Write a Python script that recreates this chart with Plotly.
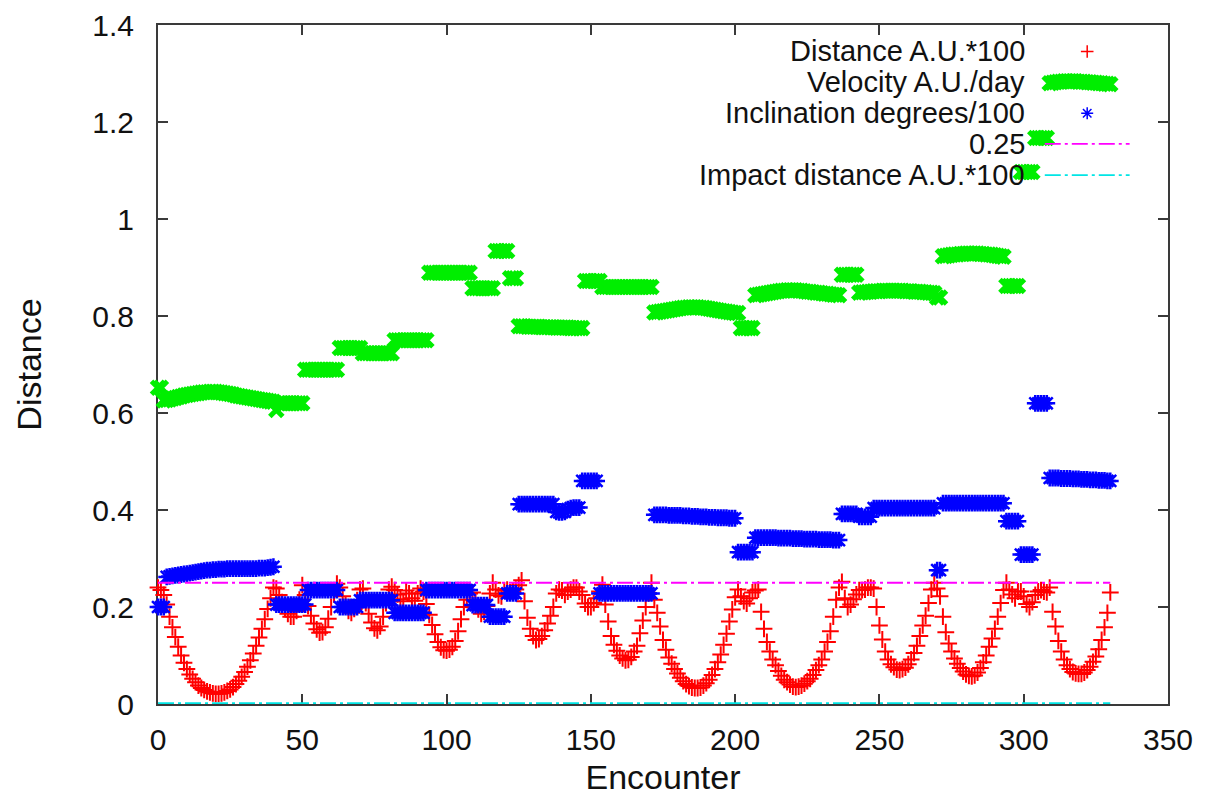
import plotly.graph_objects as go

# ---------------- data ----------------
ENCOUNTER = list(range(0, 331))

DISTANCE = [
    0.240, 0.235, 0.225, 0.205, 0.180, 0.158, 0.138, 0.118, 0.100, 0.085,
    0.072, 0.061, 0.052, 0.045, 0.038, 0.033, 0.029, 0.026, 0.024, 0.022,
    0.021, 0.021, 0.022, 0.024, 0.027, 0.030, 0.035, 0.041, 0.048, 0.056,
    0.066, 0.077, 0.090, 0.104, 0.120, 0.137, 0.155, 0.175, 0.196, 0.218,
    0.240, 0.238, 0.225, 0.210, 0.196, 0.186, 0.180, 0.180, 0.192, 0.215,
    0.245, 0.225, 0.202, 0.182, 0.166, 0.154, 0.147, 0.148, 0.158, 0.176,
    0.200, 0.226, 0.248, 0.240, 0.222, 0.205, 0.192, 0.188, 0.196, 0.214,
    0.236, 0.238, 0.208, 0.186, 0.168, 0.156, 0.152, 0.160, 0.180, 0.208,
    0.236, 0.242, 0.235, 0.226, 0.216, 0.212, 0.234, 0.228, 0.218, 0.213,
    0.228, 0.238, 0.232, 0.206, 0.184, 0.163, 0.144, 0.128, 0.117, 0.111,
    0.110, 0.112, 0.118, 0.130, 0.150, 0.175, 0.200, 0.215, 0.228, 0.230,
    0.212, 0.195, 0.186, 0.190, 0.202, 0.228, 0.250, 0.236, 0.224, 0.222,
    0.234, 0.236, 0.230, 0.232, 0.236, 0.245, 0.255, 0.212, 0.178, 0.155,
    0.140, 0.132, 0.134, 0.140, 0.152, 0.166, 0.182, 0.200, 0.228, 0.236,
    0.234, 0.225, 0.232, 0.236, 0.240, 0.240, 0.232, 0.225, 0.207, 0.200,
    0.200, 0.208, 0.218, 0.232, 0.246, 0.205, 0.170, 0.140, 0.122, 0.110,
    0.100, 0.094, 0.090, 0.091, 0.097, 0.108, 0.120, 0.146, 0.172, 0.200,
    0.228, 0.250, 0.215, 0.188, 0.160, 0.132, 0.112, 0.096, 0.083, 0.072,
    0.063, 0.054, 0.047, 0.041, 0.037, 0.034, 0.033, 0.033, 0.034, 0.038,
    0.043, 0.050, 0.060, 0.072, 0.086, 0.102, 0.122, 0.145, 0.170, 0.195,
    0.220, 0.236, 0.222, 0.212, 0.207, 0.218, 0.230, 0.234, 0.236, 0.190,
    0.155, 0.128, 0.108, 0.092, 0.080, 0.068, 0.058, 0.050, 0.045, 0.040,
    0.036, 0.035, 0.036, 0.038, 0.042, 0.047, 0.052, 0.060, 0.070, 0.080,
    0.092, 0.108, 0.128, 0.150, 0.180, 0.215, 0.240, 0.252, 0.218, 0.200,
    0.205, 0.216, 0.226, 0.235, 0.235, 0.236, 0.240, 0.240, 0.238, 0.200,
    0.162, 0.133, 0.108, 0.092, 0.082, 0.076, 0.071, 0.070, 0.072, 0.075,
    0.082, 0.092, 0.105, 0.120, 0.140, 0.162, 0.182, 0.208, 0.236, 0.250,
    0.238, 0.222, 0.180, 0.148, 0.125, 0.108, 0.094, 0.083, 0.074, 0.067,
    0.061, 0.058, 0.057, 0.059, 0.065, 0.074, 0.086, 0.100, 0.118, 0.135,
    0.155, 0.180, 0.208, 0.235, 0.250, 0.236, 0.226, 0.218, 0.232, 0.232,
    0.222, 0.206, 0.200, 0.210, 0.225, 0.232, 0.235, 0.232, 0.230, 0.240,
    0.190, 0.160, 0.130, 0.108, 0.092, 0.080, 0.072, 0.066, 0.063, 0.062,
    0.062, 0.065, 0.070, 0.077, 0.087, 0.098, 0.113, 0.132, 0.158, 0.188,
    0.230,
]

VELOCITY = [
    0.652, 0.652,
    0.626, 0.627, 0.628, 0.630, 0.631, 0.633, 0.634, 0.636, 0.637, 0.638,
    0.639, 0.640, 0.641, 0.642, 0.643, 0.643, 0.644, 0.644, 0.644, 0.643,
    0.642, 0.641, 0.640, 0.639, 0.638, 0.636, 0.635, 0.634, 0.633, 0.632,
    0.631, 0.630, 0.629, 0.628, 0.627, 0.626, 0.625, 0.624, 0.623,
    0.606,
    0.620, 0.620, 0.620, 0.620, 0.620, 0.620, 0.620, 0.620, 0.620,
    0.689, 0.689, 0.689, 0.689, 0.689, 0.689, 0.689, 0.689, 0.689, 0.689, 0.689, 0.689,
    0.734, 0.734, 0.734, 0.734, 0.734, 0.734, 0.734, 0.734,
    0.723, 0.723, 0.723, 0.723, 0.723, 0.723, 0.723, 0.723, 0.723, 0.723, 0.723,
    0.750, 0.750, 0.750, 0.750, 0.750, 0.750, 0.750, 0.750, 0.750, 0.750, 0.750, 0.750,
    0.889, 0.889, 0.889, 0.889, 0.889, 0.889, 0.889, 0.889, 0.889, 0.889,
    0.889, 0.889, 0.889, 0.889, 0.889,
    0.857, 0.857, 0.857, 0.857, 0.857, 0.857, 0.857, 0.857,
    0.934, 0.934, 0.934, 0.934, 0.934,
    0.878, 0.878, 0.878,
    0.779, 0.779, 0.779, 0.778, 0.778, 0.778, 0.778, 0.778, 0.777, 0.777,
    0.777, 0.777, 0.777, 0.776, 0.776, 0.776, 0.776, 0.776, 0.775, 0.775,
    0.775, 0.775, 0.775,
    0.872, 0.872, 0.872, 0.872, 0.872, 0.872,
    0.860, 0.860, 0.860, 0.860, 0.860, 0.860, 0.860, 0.860, 0.860, 0.860,
    0.860, 0.860, 0.860, 0.860, 0.860, 0.860, 0.860, 0.860,
    0.807, 0.808, 0.809, 0.810, 0.811, 0.812, 0.813, 0.814, 0.815, 0.816,
    0.817, 0.817, 0.818, 0.818, 0.818, 0.818, 0.817, 0.817, 0.816, 0.815,
    0.814, 0.813, 0.812, 0.811, 0.810, 0.809, 0.808, 0.807, 0.806, 0.806,
    0.775, 0.775, 0.775, 0.775, 0.775,
    0.843, 0.844, 0.845, 0.846, 0.847, 0.848, 0.849, 0.850, 0.851, 0.852,
    0.852, 0.853, 0.853, 0.853, 0.853, 0.852, 0.852, 0.851, 0.850, 0.850,
    0.849, 0.848, 0.848, 0.847, 0.846, 0.846, 0.845, 0.844, 0.844, 0.843,
    0.885, 0.885, 0.885, 0.885, 0.885, 0.885,
    0.848, 0.849, 0.849, 0.850, 0.850, 0.851, 0.851, 0.851, 0.852, 0.852,
    0.852, 0.852, 0.852, 0.852, 0.852, 0.852, 0.851, 0.851, 0.851, 0.850,
    0.850, 0.850, 0.849, 0.849, 0.848, 0.848, 0.847,
    0.838, 0.838,
    0.923, 0.924, 0.925, 0.926, 0.927, 0.927, 0.928, 0.928, 0.929, 0.929,
    0.929, 0.929, 0.929, 0.928, 0.928, 0.927, 0.927, 0.926, 0.925, 0.924,
    0.923, 0.922,
    0.862, 0.862, 0.862, 0.862, 0.862,
    1.097, 1.097, 1.097, 1.097, 1.097,
    1.167, 1.167, 1.167, 1.167, 1.167,
    1.280, 1.281, 1.282, 1.283, 1.283, 1.284, 1.284, 1.284, 1.284, 1.284,
    1.283, 1.283, 1.283, 1.282, 1.282, 1.281, 1.281, 1.280, 1.280, 1.279,
    1.279, 1.278,
]

INCLINATION = [
    0.200, 0.200, 0.200,
    0.262, 0.263, 0.264, 0.265, 0.266, 0.267, 0.268, 0.269, 0.270, 0.271,
    0.272, 0.273, 0.274, 0.275, 0.276, 0.276, 0.277, 0.277, 0.278, 0.278,
    0.278, 0.279, 0.279, 0.279, 0.279, 0.279, 0.279, 0.279, 0.279, 0.279,
    0.279, 0.279, 0.280, 0.280, 0.280, 0.281, 0.282, 0.283,
    0.205, 0.205, 0.205, 0.205, 0.205, 0.205, 0.205, 0.205, 0.205, 0.205, 0.205,
    0.235, 0.235, 0.235, 0.235, 0.235, 0.235, 0.235, 0.235, 0.235, 0.235, 0.235,
    0.200, 0.200, 0.200, 0.200, 0.200, 0.200, 0.200,
    0.214, 0.214, 0.214, 0.214, 0.214, 0.214, 0.214, 0.214, 0.214, 0.214, 0.214, 0.214,
    0.188, 0.188, 0.188, 0.188, 0.188, 0.188, 0.188, 0.188, 0.188, 0.188, 0.188,
    0.235, 0.235, 0.235, 0.235, 0.235, 0.235, 0.235, 0.235, 0.235, 0.235,
    0.235, 0.235, 0.235, 0.235, 0.235, 0.235,
    0.204, 0.204, 0.204, 0.204, 0.204, 0.204,
    0.180, 0.180, 0.180, 0.180, 0.180, 0.180,
    0.228, 0.228, 0.228, 0.228,
    0.412, 0.412, 0.412, 0.412, 0.412, 0.412, 0.412, 0.412, 0.412, 0.412,
    0.412, 0.412, 0.412,
    0.396, 0.395, 0.395, 0.396, 0.402, 0.404, 0.405, 0.405, 0.405,
    0.460, 0.460, 0.460, 0.460, 0.460, 0.460,
    0.228, 0.228, 0.228, 0.228, 0.228, 0.228, 0.228, 0.228, 0.228, 0.228,
    0.228, 0.228, 0.228, 0.228, 0.228, 0.228, 0.228, 0.228, 0.228,
    0.390, 0.390, 0.390, 0.390, 0.390, 0.389, 0.389, 0.389, 0.389, 0.389,
    0.388, 0.388, 0.388, 0.387, 0.387, 0.387, 0.386, 0.386, 0.386, 0.385,
    0.385, 0.385, 0.384, 0.384, 0.384, 0.384, 0.383, 0.383, 0.383,
    0.313, 0.313, 0.313, 0.313, 0.313, 0.313,
    0.343, 0.343, 0.343, 0.343, 0.343, 0.343, 0.343, 0.343, 0.342, 0.342,
    0.342, 0.342, 0.342, 0.341, 0.341, 0.341, 0.341, 0.340, 0.340, 0.340,
    0.340, 0.340, 0.339, 0.339, 0.339, 0.339, 0.339, 0.338, 0.338, 0.338,
    0.392, 0.392, 0.392, 0.392, 0.392, 0.392,
    0.386, 0.386, 0.386, 0.386, 0.386,
    0.404, 0.404, 0.404, 0.404, 0.404, 0.404, 0.404, 0.404, 0.404, 0.404,
    0.404, 0.404, 0.404, 0.404, 0.404, 0.404, 0.404, 0.404, 0.404, 0.404,
    0.404, 0.404,
    0.276, 0.276,
    0.414, 0.414, 0.414, 0.414, 0.414, 0.414, 0.414, 0.414, 0.414, 0.414,
    0.414, 0.414, 0.414, 0.414, 0.414, 0.414, 0.414, 0.414, 0.414, 0.414,
    0.414, 0.414,
    0.377, 0.377, 0.377, 0.377, 0.377,
    0.308, 0.308, 0.308, 0.308, 0.308,
    0.620, 0.620, 0.620, 0.620, 0.620,
    0.466, 0.466, 0.466, 0.466, 0.465, 0.465, 0.465, 0.465, 0.464, 0.464,
    0.464, 0.463, 0.463, 0.463, 0.462, 0.462, 0.462, 0.461, 0.461, 0.461,
    0.460, 0.460,
]

THRESHOLD = 0.25       # "0.25" reference line
IMPACT_DISTANCE = 0.0  # impact distance A.U.*100

LEGEND_LABELS = ["Distance A.U.*100", "Velocity A.U./day", "Inclination degrees/100",
                 "0.25", "Impact distance A.U.*100"]

# ---------------- styling ----------------
FONT = "Liberation Sans, Arial, sans-serif"
TICK_FS = 30
TITLE_FS = 34
KEY_FS = 29
TEXT_COLOR = "#111111"
AXIS_COLOR = "#3a3a3a"
RED, GREEN, BLUE, MAGENTA, CYAN = "#ff0000", "#00ee00", "#0000ff", "#ff00ff", "#00e5e5"
DASHDOT = "16px,4px,3px,4px"

fig = go.Figure()

fig.add_trace(go.Scatter(
    x=ENCOUNTER, y=DISTANCE, mode="markers", cliponaxis=False, showlegend=False,
    marker=dict(symbol="cross-thin", size=12, color=RED, line=dict(color=RED, width=2)),
))
fig.add_trace(go.Scatter(
    x=ENCOUNTER, y=VELOCITY, mode="markers", cliponaxis=False, showlegend=False,
    marker=dict(symbol="x-thin", size=13, color=GREEN, line=dict(color=GREEN, width=5)),
))
fig.add_trace(go.Scatter(
    x=ENCOUNTER, y=INCLINATION, mode="markers", cliponaxis=False, showlegend=False,
    marker=dict(symbol="asterisk", size=14, color=BLUE, line=dict(color=BLUE, width=2.5)),
))
fig.add_trace(go.Scatter(
    x=[ENCOUNTER[0], ENCOUNTER[-1]], y=[THRESHOLD, THRESHOLD], mode="lines",
    showlegend=False, line=dict(color=MAGENTA, width=2, dash=DASHDOT),
))
fig.add_trace(go.Scatter(
    x=[ENCOUNTER[0], ENCOUNTER[-1]], y=[IMPACT_DISTANCE, IMPACT_DISTANCE], mode="lines",
    cliponaxis=False, showlegend=False, line=dict(color=CYAN, width=3.5, dash=DASHDOT),
))

# ---------------- gnuplot-style key (text left, sample right) ----------------
KEY_TEXT_X = 0.859
KEY_SAMPLE_X = 0.920
KEY_LINE_X = [0.878, 0.962]
KEY_ROWS = [0.961, 0.916, 0.870, 0.825, 0.779]

for label, ky in zip(LEGEND_LABELS, KEY_ROWS):
    fig.add_annotation(x=KEY_TEXT_X, y=ky, xref="paper", yref="paper", text=label,
                       showarrow=False, xanchor="right", yanchor="middle", borderpad=0,
                       font=dict(family=FONT, size=KEY_FS, color=TEXT_COLOR))

fig.add_trace(go.Scatter(x=[KEY_SAMPLE_X], y=[KEY_ROWS[0]], xaxis="x2", yaxis="y2",
                         mode="markers", showlegend=False, cliponaxis=False,
                         marker=dict(symbol="cross-thin", size=9, color=RED,
                                     line=dict(color=RED, width=1.5))))
fig.add_trace(go.Scatter(x=[KEY_SAMPLE_X], y=[KEY_ROWS[1]], xaxis="x2", yaxis="y2",
                         mode="markers", showlegend=False, cliponaxis=False,
                         marker=dict(symbol="x-thin", size=9, color=GREEN,
                                     line=dict(color=GREEN, width=2))))
fig.add_trace(go.Scatter(x=[KEY_SAMPLE_X], y=[KEY_ROWS[2]], xaxis="x2", yaxis="y2",
                         mode="markers", showlegend=False, cliponaxis=False,
                         marker=dict(symbol="asterisk", size=10, color=BLUE,
                                     line=dict(color=BLUE, width=1.5))))
fig.add_trace(go.Scatter(x=KEY_LINE_X, y=[KEY_ROWS[3], KEY_ROWS[3]], xaxis="x2", yaxis="y2",
                         mode="lines", showlegend=False, cliponaxis=False,
                         line=dict(color=MAGENTA, width=1.8, dash=DASHDOT)))
fig.add_trace(go.Scatter(x=KEY_LINE_X, y=[KEY_ROWS[4], KEY_ROWS[4]], xaxis="x2", yaxis="y2",
                         mode="lines", showlegend=False, cliponaxis=False,
                         line=dict(color=CYAN, width=1.8, dash=DASHDOT)))

axis_common = dict(
    showline=True, linecolor=AXIS_COLOR, linewidth=2, mirror="ticks",
    ticks="inside", ticklen=10, tickwidth=2, tickcolor=AXIS_COLOR,
    showgrid=False, zeroline=False, layer="below traces", automargin=False,
    tickfont=dict(family=FONT, size=TICK_FS, color=TEXT_COLOR),
)

fig.update_layout(
    width=1206, height=799, autosize=False,
    margin=dict(l=158, r=38, t=25, b=95, autoexpand=False),
    paper_bgcolor="white", plot_bgcolor="white",
    showlegend=False,
    xaxis=dict(range=[0, 350], tick0=0, dtick=50, ticklabelstandoff=8,
               title=dict(text="Encounter",
                          font=dict(family=FONT, size=TITLE_FS, color=TEXT_COLOR),
                          standoff=10),
               **axis_common),
    yaxis=dict(range=[0, 1.4], tick0=0, dtick=0.2, ticklabelstandoff=16,
               title=dict(text="Distance",
                          font=dict(family=FONT, size=TITLE_FS, color=TEXT_COLOR),
                          standoff=40),
               **axis_common),
    xaxis2=dict(range=[0, 1], overlaying="x", anchor="y2", visible=False,
                fixedrange=True, automargin=False),
    yaxis2=dict(range=[0, 1], overlaying="y", anchor="x2", visible=False,
                fixedrange=True, automargin=False),
)

fig.write_html("out.html")
